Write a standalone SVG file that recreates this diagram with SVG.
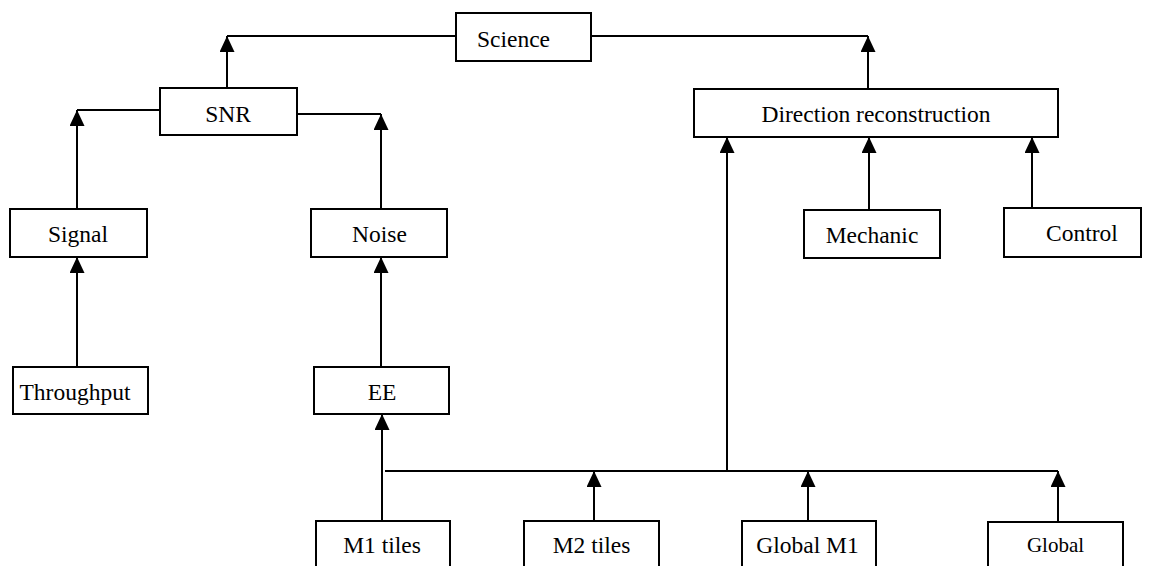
<svg xmlns="http://www.w3.org/2000/svg" width="1152" height="566" viewBox="0 0 1152 566">
<defs>
<marker id="arr" viewBox="0 0 16 15" refX="16" refY="7.5" markerWidth="16" markerHeight="15" markerUnits="userSpaceOnUse" orient="auto">
<path d="M0,0 L16,7.5 L0,15 z" fill="#000"/>
</marker>
</defs>
<style>
rect{fill:#fff;stroke:#000;stroke-width:2}
text{font-family:'Liberation Serif','Tinos','DejaVu Serif',serif;font-size:23.5px;fill:#000;text-anchor:middle}
.c line{stroke:#000;stroke-width:2;fill:none}
.a{marker-end:url(#arr)}
</style>
<rect x="0" y="0" width="1152" height="566" style="fill:#fff;stroke:none"/>
<g class="c" id="connectors">
<line class="a" x1="227" y1="88" x2="227" y2="36"/>
<line x1="456" y1="36" x2="227" y2="36"/>
<line x1="591" y1="36" x2="868" y2="36"/>
<line class="a" x1="868" y1="89" x2="868" y2="36"/>
<line x1="160" y1="110" x2="77" y2="110"/>
<line class="a" x1="77" y1="209" x2="77" y2="110"/>
<line x1="297" y1="114" x2="381" y2="114"/>
<line class="a" x1="381" y1="209" x2="381" y2="114"/>
<line class="a" x1="77" y1="367" x2="77" y2="257"/>
<line class="a" x1="381" y1="367" x2="381" y2="257"/>
<line class="a" x1="382" y1="521" x2="382" y2="414"/>
<line x1="385" y1="471" x2="1058" y2="471"/>
<line class="a" x1="727" y1="471" x2="727" y2="137"/>
<line class="a" x1="869" y1="210" x2="869" y2="137"/>
<line class="a" x1="1032" y1="208" x2="1032" y2="137"/>
<line class="a" x1="594" y1="521" x2="594" y2="471"/>
<line class="a" x1="808" y1="521" x2="808" y2="471"/>
<line class="a" x1="1058" y1="522" x2="1058" y2="471"/>
</g>
<g id="science"><rect x="456" y="13" width="135" height="48"/><text x="513.5" y="47" font-family="Liberation Serif">Science</text></g>
<g id="snr"><rect x="160" y="88" width="137" height="47"/><text x="228" y="122">SNR</text></g>
<g id="direction"><rect x="694" y="89" width="364" height="48"/><text x="876" y="122">Direction reconstruction</text></g>
<g id="signal"><rect x="10" y="209" width="137" height="48"/><text x="78" y="242">Signal</text></g>
<g id="noise"><rect x="311" y="209" width="136" height="48"/><text x="379.5" y="242">Noise</text></g>
<g id="mechanic"><rect x="804" y="210" width="136" height="48"/><text x="872" y="243">Mechanic</text></g>
<g id="control"><rect x="1004" y="208" width="137" height="49"/><text x="1082" y="241">Control</text></g>
<g id="throughput"><rect x="13" y="367" width="135" height="47"/><text x="75" y="400">Throughput</text></g>
<g id="ee"><rect x="314" y="367" width="135" height="47"/><text x="382" y="400">EE</text></g>
<g id="m1tiles"><rect x="316" y="521" width="134" height="60"/><text x="382" y="553">M1 tiles</text></g>
<g id="m2tiles"><rect x="524" y="521" width="135" height="60"/><text x="591.5" y="553">M2 tiles</text></g>
<g id="globalm1"><rect x="742" y="521" width="134" height="60"/><text x="807.5" y="553">Global M1</text></g>
<g id="global"><rect x="988" y="522" width="135" height="60"/><text x="1055.5" y="552" style="font-size:21px">Global</text></g>
</svg>
